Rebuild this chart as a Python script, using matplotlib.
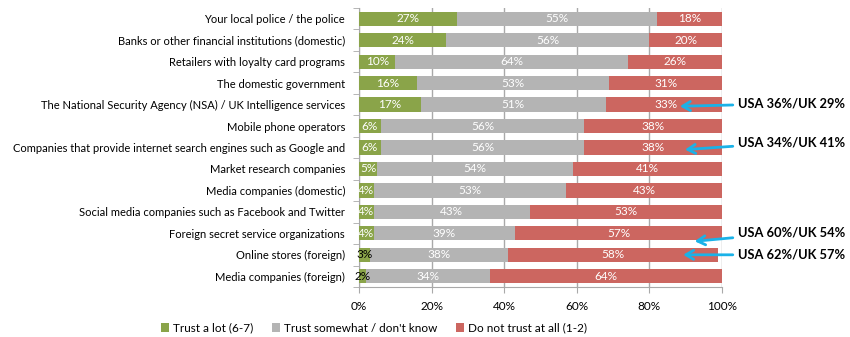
import matplotlib
matplotlib.use("Agg")
import matplotlib.pyplot as plt
import numpy as np

plt.rcParams['font.family'] = ['Lato', 'DejaVu Sans']

categories = [
    "Your local police / the police",
    "Banks or other financial institutions (domestic)",
    "Retailers with loyalty card programs",
    "The domestic government",
    "The National Security Agency (NSA) / UK Intelligence services",
    "Mobile phone operators",
    "Companies that provide internet search engines such as Google and",
    "Market research companies",
    "Media companies (domestic)",
    "Social media companies such as Facebook and Twitter",
    "Foreign secret service organizations",
    "Online stores (foreign)",
    "Media companies (foreign)",
]
trust_lot = [27, 24, 10, 16, 17, 6, 6, 5, 4, 4, 4, 3, 2]
trust_some = [55, 56, 64, 53, 51, 56, 56, 54, 53, 43, 39, 38, 34]
no_trust = [18, 20, 26, 31, 33, 38, 38, 41, 43, 53, 57, 58, 64]
series_names = ["Trust a lot (6-7)", "Trust somewhat / don't know", "Do not trust at all (1-2)"]

# country callouts: row index, text
callouts = [
    (4, "USA 36%/UK 29%"),
    (6, "USA 34%/UK 41%"),
    (10, "USA 60%/UK 54%"),
    (11, "USA 62%/UK 57%"),
]
# arrow tip (x %, row offset) and text row offset
callout_pos = {4: (88.4, 0.08, -0.05), 6: (89.8, 0.1, -0.25), 10: (92.5, 0.37, -0.05), 11: (89.3, 0.0, 0.0)}

colors = ['#8aa449', '#b4b4b4', '#cc6660']
grid_c = '#a9a9a9'

fig = plt.figure(figsize=(8.5, 3.37), dpi=100)
ax = fig.add_axes([359 / 850, 1 - 287 / 337, 363 / 850, 279 / 337])

y = np.arange(len(categories))
left = np.zeros(len(categories))
for vals, col, name in zip([trust_lot, trust_some, no_trust], colors, series_names):
    vals = np.array(vals, dtype=float)
    ax.barh(y, vals, left=left, height=0.66, color=col, label=name, zorder=3)
    for yi, (l, v) in enumerate(zip(left, vals)):
        tc = 'black' if v < 4 else 'white'
        ax.text(l + v / 2, yi, f"{int(v)}%", ha='center', va='center',
                color=tc, fontsize=8.5, zorder=4)
    left += vals

ax.set_xlim(0, 100)
ax.set_ylim(len(categories) - 0.5, -0.5)
ax.set_yticks(y)
ax.set_yticklabels(categories, fontsize=8)
ax.set_yticks(np.arange(len(categories) + 1) - 0.5, minor=True)
ax.tick_params(axis='y', which='major', length=0, pad=10)
ax.tick_params(axis='y', which='minor', length=4, color=grid_c, direction='out')
ax.set_xticks(np.arange(0, 101, 20))
ax.set_xticklabels([f"{t}%" for t in range(0, 101, 20)], fontsize=8.5)
ax.tick_params(axis='x', length=4, color=grid_c, pad=6)
ax.grid(axis='x', color=grid_c, linewidth=1, zorder=0)
for s in ['top', 'right']:
    ax.spines[s].set_visible(False)
for s in ['left', 'bottom']:
    ax.spines[s].set_color(grid_c)

for row, txt in callouts:
    tip_x, tip_dy, txt_dy = callout_pos[row]
    ax.annotate(txt, xy=(tip_x, row + tip_dy), xycoords='data',
                xytext=(1.045, row + txt_dy), textcoords=('axes fraction', 'data'),
                ha='left', va='center', fontsize=9.3, fontweight='bold',
                arrowprops=dict(arrowstyle='->,head_length=0.6,head_width=0.35',
                                color='#1ab2e8', lw=2, shrinkA=2, shrinkB=0),
                annotation_clip=False)

fig.legend(loc='center', bbox_to_anchor=(0.44, 1 - 328 / 337), ncol=3, frameon=False,
           fontsize=8.5, handlelength=0.7, handleheight=0.7, handletextpad=0.3,
           columnspacing=1.6)

fig.savefig("out.png", dpi=100)
